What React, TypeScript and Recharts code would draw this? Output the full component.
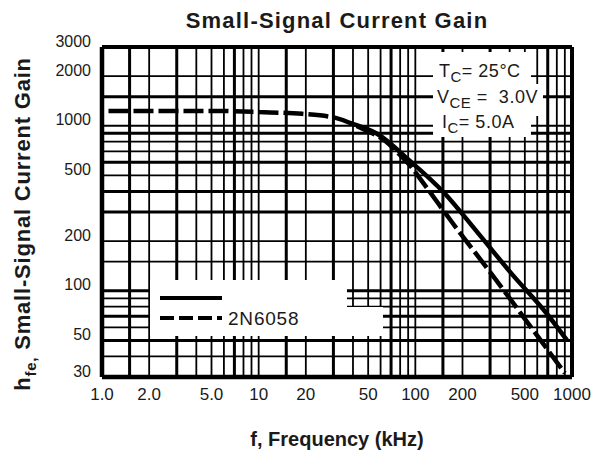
import React from 'react';
import { LineChart, Line, XAxis, YAxis, ReferenceLine } from 'recharts';

// ---- data ----
const xTicks = [1, 2, 5, 10, 20, 50, 100, 200, 500, 1000];
const yTicks = [30, 50, 100, 200, 500, 1000, 2000, 3000];
const xGridThick = [1.5, 3, 7, 15, 30, 70, 150, 300, 700];
const xGridThin = [2, 4, 5, 6, 8, 9, 10, 20, 40, 50, 60, 80, 90, 100, 200, 400, 500, 600, 800, 900];
const yGridThick = [1500, 900, 600, 400, 300, 100, 70, 50];
const yGridThin = [2000, 1000, 800, 700, 500, 200, 150, 90, 80, 60, 40];

const dashedF = [1.1, 5, 10, 19, 31, 46, 64, 78, 95, 106, 172, 328, 548, 900];
const dashedH = [1230, 1230, 1210, 1180, 1115, 960, 810, 680, 557, 485, 259, 116, 60, 31.7];
const solidF = [38, 57, 92, 152, 250, 411, 687, 930];
const solidH = [1040, 894, 614, 394, 225, 127, 73, 50];

const dashedData = dashedF.map((f, i) => ({ f, h: dashedH[i] }));
const solidData = solidF.map((f, i) => ({ f, h: solidH[i] }));

const fmtX = (v: number) => (v < 10 ? v.toFixed(1) : String(v));

const SANS = "'Liberation Sans', Arial, Helvetica, sans-serif";
const NARROW = "'Liberation Sans Narrow', 'Arial Narrow', 'Liberation Sans', sans-serif";

const YTick = (props: any) => {
  const { x, y, payload } = props;
  return (
    <text x={x} y={y - 6} textAnchor="end" dominantBaseline="central" fontFamily={SANS} fontSize={16} fill="#1a1a1a">
      {payload.value}
    </text>
  );
};

const XTick = (props: any) => {
  const { x, y, payload } = props;
  return (
    <text x={x} y={y} dy="0.75em" textAnchor="middle" fontFamily={NARROW} fontSize={17} fill="#1a1a1a">
      {fmtX(payload.value)}
    </text>
  );
};

const YLabel = () => (
  <text transform="translate(30,224) rotate(-90)" textAnchor="middle" fontFamily={SANS} fontWeight="bold" fontSize={22} letterSpacing={0.8} fill="#1a1a1a">
    <tspan>h</tspan>
    <tspan fontSize={15} dy={6}>fe,</tspan>
    <tspan dy={-6}> Small-Signal Current Gain</tspan>
  </text>
);

export default function App() {
  return (
    <div style={{ position: 'absolute', left: 0, top: 0, width: 598, height: 453, background: '#fff', overflow: 'hidden' }}>
      <LineChart width={598} height={453} margin={{ top: 47, right: 26, bottom: 46, left: 0 }}>
        <XAxis
          dataKey="f"
          type="number"
          scale="log"
          domain={[1, 1000]}
          ticks={xTicks}
          allowDataOverflow
          axisLine={false}
          tickLine={false}
          tickSize={0}
          tickMargin={10}
          height={30}
          tick={<XTick />}
          interval={0}
        />
        <YAxis
          dataKey="h"
          type="number"
          scale="log"
          domain={[30, 3000]}
          ticks={yTicks}
          allowDataOverflow
          axisLine={false}
          tickLine={false}
          tickSize={0}
          tickMargin={11}
          width={102}
          tick={<YTick />}
          interval={0}
        />
        {xGridThin.map((v) => (
          <ReferenceLine key={'xt' + v} x={v} stroke="#000" strokeWidth={1.8} />
        ))}
        {xGridThick.map((v) => (
          <ReferenceLine key={'xk' + v} x={v} stroke="#000" strokeWidth={3} />
        ))}
        {yGridThin.map((v) => (
          <ReferenceLine key={'yt' + v} y={v} stroke="#000" strokeWidth={1.8} />
        ))}
        {yGridThick.map((v) => (
          <ReferenceLine key={'yk' + v} y={v} stroke="#000" strokeWidth={3} />
        ))}
        <ReferenceLine x={1} stroke="#000" strokeWidth={4.5} />
        <ReferenceLine x={1000} stroke="#000" strokeWidth={4} />
        <ReferenceLine y={30} stroke="#000" strokeWidth={4.5} />
        <ReferenceLine y={3000} stroke="#000" strokeWidth={4} />
        <Line
          data={dashedData}
          dataKey="h"
          type="monotone"
          stroke="#000"
          strokeWidth={4.5}
          strokeDasharray="20 5"
          dot={false}
          isAnimationActive={false}
        />
        <Line
          data={solidData}
          dataKey="h"
          type="monotone"
          stroke="#000"
          strokeWidth={4.5}
          dot={false}
          isAnimationActive={false}
        />
      </LineChart>

      {/* titles */}
      <svg width={598} height={453} style={{ position: 'absolute', left: 0, top: 0, pointerEvents: 'none' }}>
        <text x={337} y={28} textAnchor="middle" fontFamily={SANS} fontWeight="bold" fontSize={22} letterSpacing={1.2} fill="#1a1a1a">
          Small-Signal Current Gain
        </text>
        <text x={337} y={446} textAnchor="middle" fontFamily={SANS} fontWeight="bold" fontSize={20} fill="#1a1a1a">
          f, Frequency (kHz)
        </text>
        <YLabel />
      </svg>

      {/* annotation box */}
      <div
        style={{
          position: 'absolute', left: 433, top: 52, width: 98, height: 85, background: '#fff',
          fontFamily: SANS, fontSize: 18, color: '#1a1a1a', letterSpacing: 0.5, lineHeight: '26px',
        }}
      >
        <div style={{ position: 'absolute', left: 6, top: 6, whiteSpace: 'nowrap' }}>
          T<sub style={{ fontSize: 15, verticalAlign: '-5px' }}>C</sub>= 25°C
        </div>
        <div style={{ position: 'absolute', left: 4, top: 32, whiteSpace: 'nowrap', background: '#fff', paddingRight: 5 }}>
          V<sub style={{ fontSize: 15, verticalAlign: '-5px' }}>CE</sub> = &nbsp;3.0V
        </div>
        <div style={{ position: 'absolute', left: 9, top: 57, whiteSpace: 'nowrap' }}>
          I<sub style={{ fontSize: 15, verticalAlign: '-5px' }}>C</sub>= 5.0A
        </div>
      </div>

      {/* legend */}
      <div style={{ position: 'absolute', left: 150, top: 280, width: 197, height: 56, background: '#fff' }} />
      <div style={{ position: 'absolute', left: 346, top: 307, width: 37, height: 29, background: '#fff' }} />
      <svg width={240} height={60} style={{ position: 'absolute', left: 150, top: 280 }}>
        <line x1={10} y1={18} x2={72} y2={18} stroke="#000" strokeWidth={4} />
        <line x1={10} y1={38} x2={72} y2={38} stroke="#000" strokeWidth={4} strokeDasharray="14 5" />
        <text x={78} y={38} dominantBaseline="central" fontFamily={SANS} fontSize={19} letterSpacing={0.8} fill="#1a1a1a">
          2N6058
        </text>
      </svg>
    </div>
  );
}
